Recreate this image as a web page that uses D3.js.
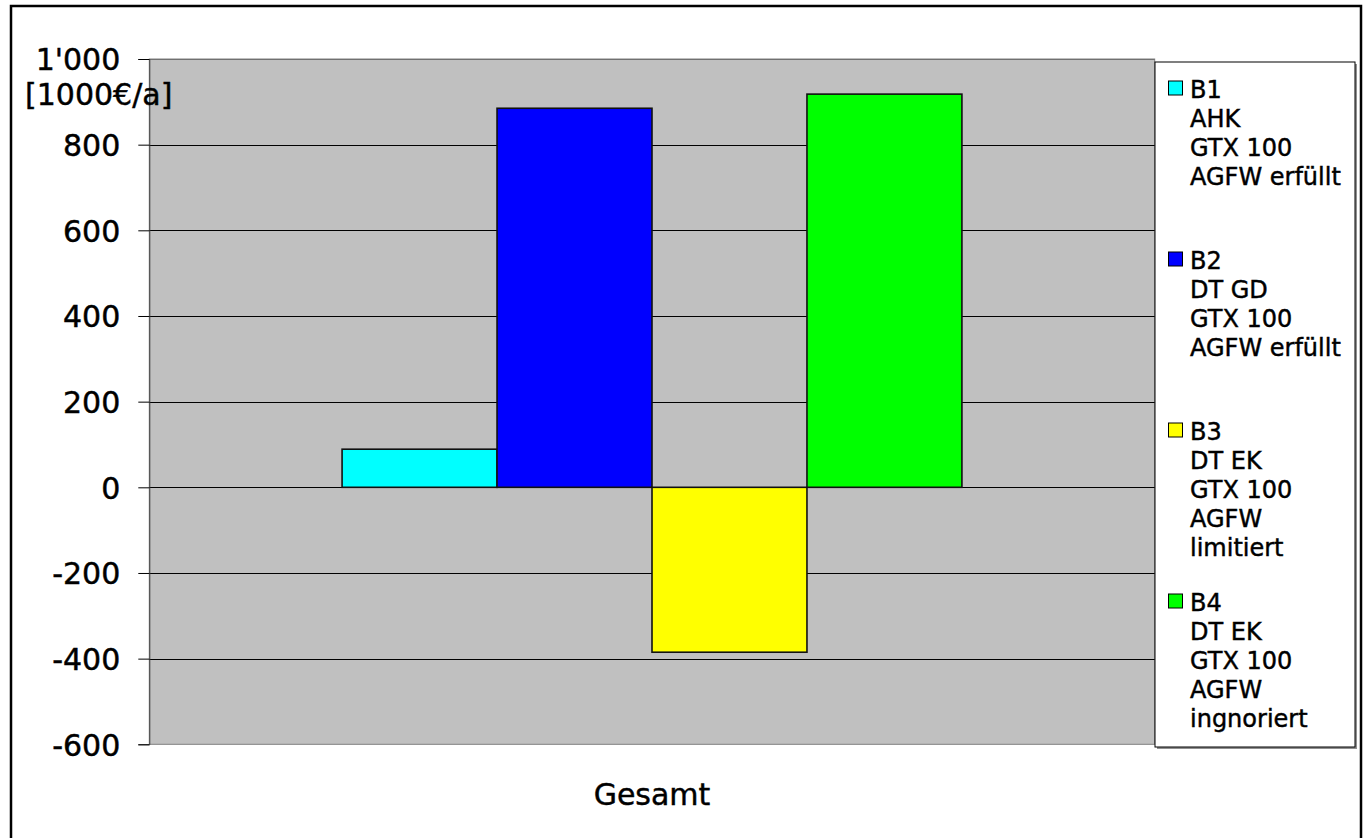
<!DOCTYPE html>
<html>
<head>
<meta charset="utf-8">
<script src="https://cdn.jsdelivr.net/npm/d3@7"></script>
<style>
  html, body { margin: 0; padding: 0; background: #ffffff; }
  svg { display: block; font-family: "DejaVu Sans", sans-serif; }
  svg text { stroke: #000; stroke-width: 0.45px; }
</style>
</head>
<body>
<svg id="chart" width="1367" height="838"></svg>
<script>
// Annual result per variant, in 1000 €/a
const categories = ["Gesamt"];
const seriesNames = ["B1", "B2", "B3", "B4"];
const seriesValues = [89, 885, -385, 918];
const seriesColors = ["#00FFFF", "#0000FF", "#FFFF00", "#00FF00"];
const seriesLabelLines = [
  ["B1", "AHK", "GTX 100", "AGFW erfüllt"],
  ["B2", "DT GD", "GTX 100", "AGFW erfüllt"],
  ["B3", "DT EK", "GTX 100", "AGFW", "limitiert"],
  ["B4", "DT EK", "GTX 100", "AGFW", "ingnoriert"]
];
const yTicks = [-600, -400, -200, 0, 200, 400, 600, 800, 1000];
const yUnit = "[1000€/a]";

const svg = d3.select("#chart");

// Plot area
const plot = { left: 149.3, top: 59, right: 1154.7, bottom: 744.3 };

const y = d3.scaleLinear()
  .domain([-600, 1000])
  .range([plot.bottom, plot.top]);

// One category, four bars side by side with wide outer gaps
const x0 = d3.scaleBand()
  .domain(categories)
  .range([plot.left, plot.right])
  .paddingInner(0)
  .paddingOuter(0.311);

const x1 = d3.scaleBand()
  .domain(seriesNames)
  .range([0, x0.bandwidth()])
  .padding(0);

const locale = d3.formatLocale({
  decimal: ".", thousands: "'", grouping: [3], currency: ["", ""], minus: "-"
});
const fmt = locale.format(",");

// Outer chart frame (runs off the bottom edge)
svg.append("rect")
  .attr("x", 11).attr("y", 6)
  .attr("width", 1350).attr("height", 900)
  .attr("fill", "none")
  .attr("stroke", "#000").attr("stroke-width", 2.5);

// Plot background
svg.append("rect")
  .attr("x", plot.left).attr("y", plot.top)
  .attr("width", plot.right - plot.left)
  .attr("height", plot.bottom - plot.top)
  .attr("fill", "#C0C0C0")
  .attr("stroke", "#808080").attr("stroke-width", 1);

// Horizontal gridlines
svg.append("g")
  .selectAll("line")
  .data(yTicks.filter(d => d !== -600))
  .join("line")
  .attr("x1", plot.left).attr("x2", plot.right)
  .attr("y1", d => Math.round(y(d)) + 0.5)
  .attr("y2", d => Math.round(y(d)) + 0.5)
  .attr("stroke", d => d === 1000 ? "#707070" : "#000")
  .attr("stroke-width", 1);

// Bars
const barGroup = svg.append("g")
  .selectAll("g")
  .data(categories)
  .join("g")
  .attr("transform", d => `translate(${x0(d)},0)`);

barGroup.selectAll("rect")
  .data(() => seriesNames.map((name, i) => ({ name, value: seriesValues[i], color: seriesColors[i] })))
  .join("rect")
  .attr("x", d => x1(d.name))
  .attr("y", d => y(Math.max(0, d.value)))
  .attr("width", x1.bandwidth())
  .attr("height", d => Math.abs(y(d.value) - y(0)))
  .attr("fill", d => d.color)
  .attr("stroke", "#111")
  .attr("stroke-width", 1.6);

// Y axis
const yAxis = svg.append("g")
  .attr("transform", `translate(${plot.left},0)`)
  .call(d3.axisLeft(y)
    .tickValues(yTicks)
    .tickFormat(fmt)
    .tickSize(11)
    .tickPadding(18));
yAxis.select(".domain").attr("stroke", "#404040");
yAxis.selectAll(".tick line").attr("stroke", "#000");
yAxis.selectAll(".tick text")
  .attr("font-family", "DejaVu Sans, sans-serif")
  .attr("font-size", 30)
  .attr("fill", "#000")
  .attr("dy", "0.36em");

// Unit label under the top tick
svg.append("text")
  .attr("x", 25).attr("y", 105)
  .attr("font-size", 30)
  .attr("fill", "#000")
  .text(yUnit);

// X axis (category label only)
const xAxis = svg.append("g")
  .attr("transform", `translate(0,${plot.bottom})`)
  .call(d3.axisBottom(x0).tickSize(0).tickPadding(39));
xAxis.select(".domain").remove();
xAxis.selectAll(".tick text")
  .attr("font-family", "DejaVu Sans, sans-serif")
  .attr("font-size", 30)
  .attr("fill", "#000");

// Legend
const legend = { left: 1155, top: 62, right: 1355, bottom: 747 };
svg.append("rect")
  .attr("x", legend.left + 2).attr("y", legend.top + 2)
  .attr("width", legend.right - legend.left)
  .attr("height", legend.bottom - legend.top)
  .attr("fill", "#909090");
svg.append("rect")
  .attr("x", legend.left).attr("y", legend.top)
  .attr("width", legend.right - legend.left)
  .attr("height", legend.bottom - legend.top)
  .attr("fill", "#fff")
  .attr("stroke", "#000").attr("stroke-width", 1);

const entrySpacing = 171;
const lineSpacing = 29;
const firstBaseline = 98;

const entries = svg.append("g")
  .selectAll("g")
  .data(seriesNames.map((name, i) => ({ name, color: seriesColors[i], lines: seriesLabelLines[i] })))
  .join("g")
  .attr("transform", (d, i) => `translate(0,${firstBaseline + i * entrySpacing})`);

entries.append("rect")
  .attr("x", 1168.5).attr("y", -17)
  .attr("width", 14).attr("height", 14)
  .attr("fill", d => d.color)
  .attr("stroke", "#000").attr("stroke-width", 1);

entries.append("text")
  .attr("font-size", 24)
  .attr("fill", "#000")
  .selectAll("tspan")
  .data(d => d.lines)
  .join("tspan")
  .attr("x", 1190)
  .attr("y", (d, i) => i * lineSpacing)
  .text(d => d);
</script>
</body>
</html>
